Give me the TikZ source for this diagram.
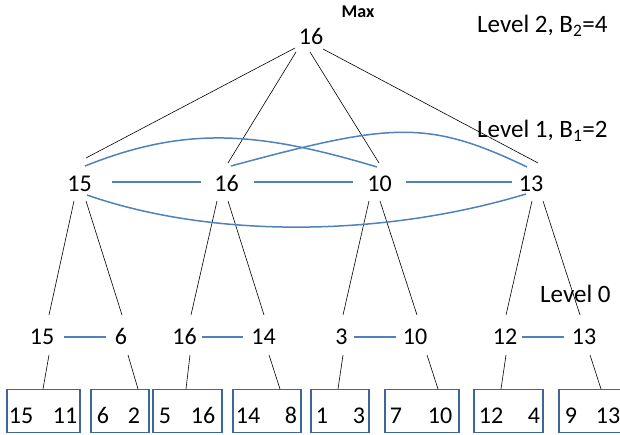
\documentclass[tikz,border=0pt]{standalone}
\usepackage{fontspec}
\setmainfont{Carlito}
\definecolor{linkblue}{HTML}{4F81BD}
\definecolor{cellblue}{HTML}{3C679A}
\begin{document}
\begin{tikzpicture}[x=1pt,y=-1pt,
  num/.style={font=\fontsize{24}{28}\selectfont, inner sep=0pt, anchor=base},
  lvl/.style={font=\fontsize{25}{30}\selectfont, inner sep=0pt, anchor=base west},
  tree/.style={black, line width=0.6pt},
  link/.style={linkblue, line width=1.5pt},
  cell/.style={draw=cellblue, line width=1.4pt, inner sep=0pt,
               minimum height=43pt, anchor=north}]
\path[use as bounding box] (0,0) rectangle (620,435);
\clip (0,0) rectangle (620,435);

% labels
\node[font=\bfseries\fontsize{18}{20}\selectfont, inner sep=0pt, anchor=base] (max) at (358,18) {Max};
\node[lvl] (lv2) at (477,33) {Level 2, B\textsubscript{2}=4};
\node[lvl] (lv1) at (477,138) {Level 1, B\textsubscript{1}=2};
\node[lvl] (lv0) at (540,302) {Level 0};

% level 2
\node[num] (R) at (311,45) {16};

% level 1
\node[num] (A) at (79.5,192) {15};
\node[num] (B) at (226.5,192) {16};
\node[num] (C) at (379.5,192) {10};
\node[num] (D) at (531,192) {13};

% level 0
\node[num] (A1) at (42,344) {15};
\node[num] (A2) at (121,344) {6};
\node[num] (B1) at (184.5,344) {16};
\node[num] (B2) at (263.5,344) {14};
\node[num] (C1) at (341.5,344) {3};
\node[num] (C2) at (415,344) {10};
\node[num] (D1) at (505,344) {12};
\node[num] (D2) at (584,344) {13};

% leaf blocks
\node[cell, minimum width=73pt] (K1) at (43.5,389) {};
\node[cell, minimum width=58pt] (K2) at (120,389) {};
\node[cell, minimum width=69pt] (K3) at (187.5,389) {};
\node[cell, minimum width=68pt] (K4) at (267,389) {};
\node[cell, minimum width=58pt] (K5) at (340,389) {};
\node[cell, minimum width=74pt] (K6) at (422,389) {};
\node[cell, minimum width=69pt] (K7) at (508.5,389) {};
\node[cell, minimum width=67pt] (K8) at (592.5,389) {};

\node[num] (k1a) at (21,423) {15};  \node[num] (k1b) at (65,423) {11};
\node[num] (k2a) at (103,423) {6};  \node[num] (k2b) at (134,423) {2};
\node[num] (k3a) at (165,423) {5};  \node[num] (k3b) at (203,423) {16};
\node[num] (k4a) at (248,423) {14}; \node[num] (k4b) at (291,423) {8};
\node[num] (k5a) at (322,423) {1};  \node[num] (k5b) at (359,423) {3};
\node[num] (k6a) at (396,423) {7};  \node[num] (k6b) at (440,423) {10};
\node[num] (k7a) at (491,423) {12}; \node[num] (k7b) at (534,423) {4};
\node[num] (k8a) at (571,423) {9};  \node[num] (k8b) at (608,423) {13};

% tree edges: level 2 -> level 1
\draw[tree] ([shift={(-16,3)}]R.base) -- ([shift={(6.5,-34)}]A.base);
\draw[tree] ([shift={(-15,7)}]R.base) -- ([shift={(1.5,-29)}]B.base);
\draw[tree] ([shift={(-1,7)}]R.base)  -- ([shift={(-0.5,-29)}]C.base);
\draw[tree] ([shift={(12,4)}]R.base)  -- ([shift={(7,-29)}]D.base);

% level 1 -> level 0
\draw[tree] ([shift={(-5.5,9)}]A.base)  -- ([shift={(7,-29)}]A1.base);
\draw[tree] ([shift={(6.5,9)}]A.base)   -- ([shift={(1,-29)}]A2.base);
\draw[tree] ([shift={(-9.5,9)}]B.base)  -- ([shift={(6.5,-29)}]B1.base);
\draw[tree] ([shift={(1.5,9)}]B.base)   -- ([shift={(0.5,-29)}]B2.base);
\draw[tree] ([shift={(-10.5,9)}]C.base) -- ([shift={(1.5,-29)}]C1.base);
\draw[tree] ([shift={(0.5,9)}]C.base)   -- ([shift={(2,-29)}]C2.base);
\draw[tree] ([shift={(1,9)}]D.base)     -- ([shift={(1,-29)}]D1.base);
\draw[tree] ([shift={(12,9)}]D.base)    -- ([shift={(-4,-29)}]D2.base);

% level 0 -> leaf blocks
\draw[tree] ([shift={(7,11)}]A1.base)   -- ([shift={(-0.5,0)}]K1.north);
\draw[tree] ([shift={(7,11)}]A2.base)   -- ([shift={(18,0)}]K2.north);
\draw[tree] ([shift={(5.5,11)}]B1.base) -- ([shift={(-1.5,0)}]K3.north);
\draw[tree] ([shift={(5.5,11)}]B2.base) -- ([shift={(13,0)}]K4.north);
\draw[tree] ([shift={(1.5,11)}]C1.base) -- ([shift={(-2,0)}]K5.north);
\draw[tree] ([shift={(12,11)}]C2.base)  -- ([shift={(16,0)}]K6.north);
\draw[tree] ([shift={(1,11)}]D1.base)   -- ([shift={(-7.5,0)}]K7.north);
\draw[tree] ([shift={(6,11)}]D2.base)   -- ([shift={(8.5,0)}]K8.north);

% sibling links, level 1
\draw[link] ([shift={(32.5,-10)}]A.base) -- ([shift={(-25.5,-10)}]B.base);
\draw[link] ([shift={(27.5,-10)}]B.base) -- ([shift={(-26.5,-10)}]C.base);
\draw[link] ([shift={(26.5,-10)}]C.base) -- ([shift={(-19,-10)}]D.base);
\draw[link] ([shift={(5.5,-26)}]A.base) .. controls (185,126) and (257,131) .. ([shift={(-2.5,-25)}]C.base);
\draw[link] ([shift={(4.5,-26)}]B.base) .. controls (391,122.8) and (427,119) .. ([shift={(-4,-25)}]D.base);
\draw[link] ([shift={(7.5,3)}]A.base) .. controls (210,238) and (380,238) .. ([shift={(-5,2)}]D.base);

% sibling links, level 0
\draw[link] ([shift={(22,-7)}]A1.base)   -- ([shift={(-15,-7)}]A2.base);
\draw[link] ([shift={(17.5,-7)}]B1.base) -- ([shift={(-20.5,-7)}]B2.base);
\draw[link] ([shift={(12.5,-7)}]C1.base) -- ([shift={(-19,-7)}]C2.base);
\draw[link] ([shift={(17,-7)}]D1.base)   -- ([shift={(-20,-7)}]D2.base);
\end{tikzpicture}
\end{document}
